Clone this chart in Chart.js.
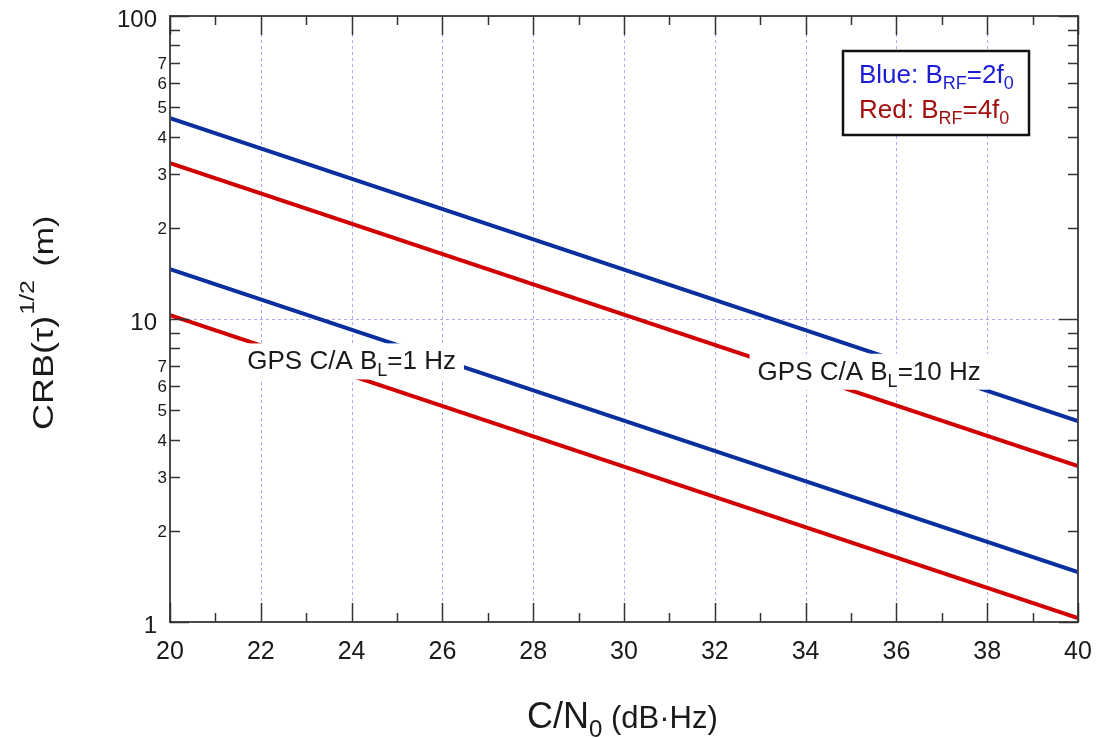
<!DOCTYPE html>
<html lang="en">
<head>
  <meta charset="UTF-8">
  <title>CRB vs C/N0</title>
  <script src="https://cdn.jsdelivr.net/npm/chart.js"></script>
  <style>
    body { margin: 0; background: #fff; }
    #wrap { width: 1096px; height: 738px; }
  </style>
</head>
<body>
  <div id="wrap"><canvas id="crbChart" width="1096" height="738"></canvas></div>

  <script>
    // C/N0 in dB-Hz, endpoints of each (straight on log scale) curve
    const cn0 = [20, 40];
    const blue10Hz = [46.0, 4.60];
    const red10Hz = [32.7, 3.27];
    const blue1Hz = [14.6, 1.46];
    const red1Hz = [10.3, 1.03];

    // tick labels
    const xTicks = [20, 22, 24, 26, 28, 30, 32, 34, 36, 38, 40];
    const xMinor = [21, 23, 25, 27, 29, 31, 33, 35, 37, 39];
    const yMajor = [1, 10, 100];
    const yMinor = [2, 3, 4, 5, 6, 7, 8, 9, 20, 30, 40, 50, 60, 70, 80, 90];
    const yMinorLabels = [2, 3, 4, 5, 6, 7, 20, 30, 40, 50, 60, 70];

    const FONT = '"Liberation Sans", Arial, sans-serif';
    const BLUE = '#0b2f9f';
    const RED = '#d00000';

    const toPts = ys => ys.map((y, i) => ({ x: cn0[i], y }));

    // draws text made of parts {t, size, dy}, starting at x
    function richText(ctx, parts, x, y, color) {
      ctx.fillStyle = color;
      ctx.textBaseline = 'alphabetic';
      ctx.textAlign = 'left';
      parts.forEach(p => {
        ctx.font = p.size + 'px ' + FONT;
        ctx.fillText(p.t, x, y + (p.dy || 0));
        x += ctx.measureText(p.t).width;
      });
      return x;
    }
    function richWidth(ctx, parts) {
      let w = 0;
      parts.forEach(p => { ctx.font = p.size + 'px ' + FONT; w += ctx.measureText(p.t).width; });
      return w;
    }

    // curve labels, placed in data units
    const curveLabels = [
      { x: 24.0, y: 7.3, parts: [{ t: 'GPS C/A B', size: 26 }, { t: 'L', size: 18, dy: 7 }, { t: '=1 Hz', size: 26 }] },
      { x: 35.4, y: 6.75, parts: [{ t: 'GPS C/A B', size: 26 }, { t: 'L', size: 18, dy: 7 }, { t: '=10 Hz', size: 26 }] }
    ];

    const gridPlugin = {
      id: 'gridLines',
      beforeDatasetsDraw(chart) {
        const { ctx, chartArea: a, scales: { x, y } } = chart;
        ctx.save();
        ctx.strokeStyle = '#a9a9ff';
        ctx.lineWidth = 1;
        ctx.setLineDash([3, 3]);
        xTicks.slice(1, -1).forEach(v => {
          const px = Math.round(x.getPixelForValue(v)) + 0.5;
          ctx.beginPath(); ctx.moveTo(px, a.top); ctx.lineTo(px, a.bottom); ctx.stroke();
        });
        const py = Math.round(y.getPixelForValue(10)) + 0.5;
        ctx.beginPath(); ctx.moveTo(a.left, py); ctx.lineTo(a.right, py); ctx.stroke();
        ctx.restore();
      }
    };

    const decorPlugin = {
      id: 'decor',
      afterDatasetsDraw(chart) {
        const { ctx, chartArea: a, scales: { x, y } } = chart;
        ctx.save();

        // curve labels on white boxes
        curveLabels.forEach(l => {
          const w = richWidth(ctx, l.parts);
          const cx = x.getPixelForValue(l.x), cy = y.getPixelForValue(l.y);
          ctx.fillStyle = '#fff';
          ctx.fillRect(cx - w / 2 - 8, cy - 17, w + 16, 36);
          richText(ctx, l.parts, cx - w / 2, cy + 9, '#1a1a1a');
        });

        // legend box
        ctx.fillStyle = '#fff';
        ctx.fillRect(843, 51, 186, 84);
        ctx.strokeStyle = '#111';
        ctx.lineWidth = 2.5;
        ctx.strokeRect(843, 51, 186, 84);
        richText(ctx, [{ t: 'Blue: B', size: 26 }, { t: 'RF', size: 18, dy: 6 }, { t: '=2f', size: 26 }, { t: '0', size: 18, dy: 6 }], 859, 83, '#1c1cd4');
        richText(ctx, [{ t: 'Red: B', size: 26 }, { t: 'RF', size: 18, dy: 6 }, { t: '=4f', size: 26 }, { t: '0', size: 18, dy: 6 }], 859, 118, '#a41010');

        // frame
        ctx.strokeStyle = '#4a4a4a';
        ctx.lineWidth = 2;
        ctx.strokeRect(a.left, a.top, a.right - a.left, a.bottom - a.top);

        // ticks (inward, on all four sides)
        ctx.strokeStyle = '#333';
        ctx.lineWidth = 1.5;
        const tick = (x1, y1, x2, y2) => { ctx.beginPath(); ctx.moveTo(x1, y1); ctx.lineTo(x2, y2); ctx.stroke(); };
        xTicks.forEach(v => {
          const px = Math.round(x.getPixelForValue(v)) + 0.5;
          tick(px, a.bottom, px, a.bottom - 19); tick(px, a.top, px, a.top + 19);
        });
        xMinor.forEach(v => {
          const px = Math.round(x.getPixelForValue(v)) + 0.5;
          tick(px, a.bottom, px, a.bottom - 9); tick(px, a.top, px, a.top + 9);
        });
        yMajor.forEach(v => {
          const py = Math.round(y.getPixelForValue(v)) + 0.5;
          tick(a.left, py, a.left + 19, py); tick(a.right, py, a.right - 19, py);
        });
        yMinor.forEach(v => {
          const py = Math.round(y.getPixelForValue(v)) + 0.5;
          tick(a.left, py, a.left + 10, py); tick(a.right, py, a.right - 10, py);
        });

        // tick labels
        ctx.fillStyle = '#1a1a1a';
        ctx.textBaseline = 'alphabetic';
        ctx.textAlign = 'center';
        ctx.font = '25px ' + FONT;
        xTicks.forEach(v => ctx.fillText(String(v), x.getPixelForValue(v), a.bottom + 37));
        ctx.textAlign = 'right';
        ctx.font = '24px ' + FONT;
        yMajor.forEach(v => ctx.fillText(String(v), a.left - 13, y.getPixelForValue(v) + 11));
        ctx.font = '17px ' + FONT;
        yMinorLabels.filter(v => v < 10).forEach(v => ctx.fillText(String(v), a.left - 3, y.getPixelForValue(v) + 6));
        yMinorLabels.filter(v => v > 10).forEach(v => ctx.fillText(String(v / 10), a.left - 3, y.getPixelForValue(v) + 6));

        // x title
        let tx = richText(ctx, [{ t: 'C/N', size: 36 }], 527, 728, '#1a1a1a');
        tx = richText(ctx, [{ t: '0', size: 24, dy: 9 }], tx, 728, '#1a1a1a');
        richText(ctx, [{ t: ' (dB·Hz)', size: 31 }], tx, 728, '#1a1a1a');

        // y title (rotated)
        ctx.translate(53, 430);
        ctx.rotate(-Math.PI / 2);
        ctx.scale(1, 0.8);
        let ty = richText(ctx, [{ t: 'CRB(τ)', size: 36 }], 0, 0, '#1a1a1a');
        ty = richText(ctx, [{ t: '1/2', size: 25, dy: -24 }], ty + 1, 0, '#1a1a1a');
        richText(ctx, [{ t: ' (m)', size: 34 }], ty + 4, 0, '#1a1a1a');

        ctx.restore();
      }
    };

    const lineDs = (data, color) => ({
      data: toPts(data), borderColor: color, borderWidth: 4,
      pointRadius: 0, fill: false, tension: 0
    });

    new Chart(document.getElementById('crbChart').getContext('2d'), {
      type: 'line',
      data: {
        datasets: [
          lineDs(blue10Hz, BLUE),
          lineDs(red10Hz, RED),
          lineDs(blue1Hz, BLUE),
          lineDs(red1Hz, RED)
        ]
      },
      options: {
        responsive: false,
        animation: false,
        layout: { padding: { left: 0, top: 16, right: 18, bottom: 0 } },
        plugins: { legend: { display: false }, tooltip: { enabled: false } },
        scales: {
          x: {
            type: 'linear', min: 20, max: 40,
            ticks: { display: false }, grid: { display: false }, border: { display: false },
            afterFit: s => { s.height = 116; }
          },
          y: {
            type: 'logarithmic', min: 1, max: 100,
            ticks: { display: false }, grid: { display: false }, border: { display: false },
            afterFit: s => { s.width = 170; }
          }
        }
      },
      plugins: [gridPlugin, decorPlugin]
    });
  </script>
</body>
</html>
